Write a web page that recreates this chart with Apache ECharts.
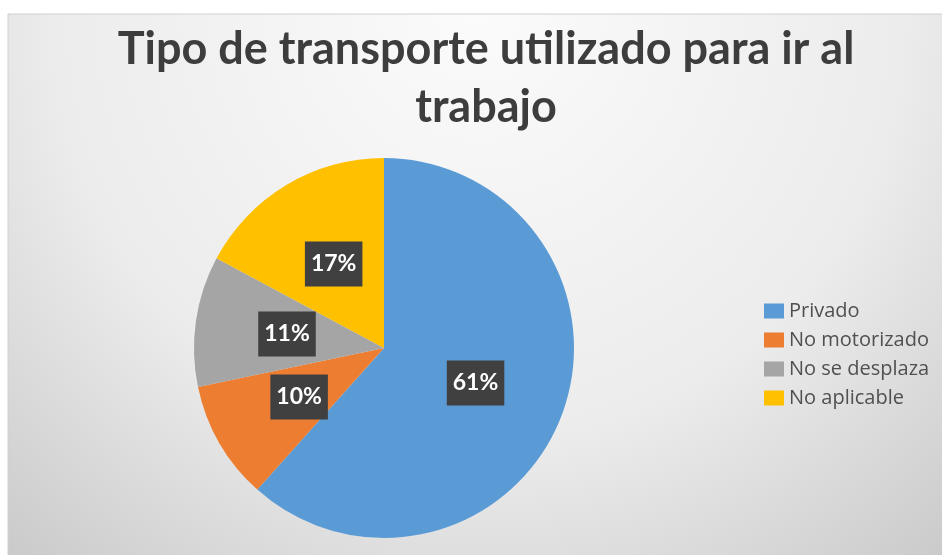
<!DOCTYPE html>
<html>
<head>
    <meta charset="utf-8">
    <title>Tipo de transporte utilizado para ir al trabajo</title>
    <script src="https://cdn.jsdelivr.net/npm/echarts@6/dist/echarts.min.js"></script>
    <style>
        html, body { margin: 0; padding: 0; background: #fff; }
    </style>
</head>
<body>
<div id="main" style="width: 942px;height:555px;"></div>

<script type="text/javascript">
    // datos del grafico
    var categorias = ['Privado', 'No motorizado', 'No se desplaza', 'No aplicable'];
    var porcentajes = [61, 10, 11, 17];
    var colores = ['#5b9bd5', '#ed7d31', '#a5a5a5', '#ffc000'];

    var datos = [];
    for (var i = 0; i < categorias.length; i++) {
        datos.push({ name: categorias[i], value: porcentajes[i], itemStyle: { color: colores[i] } });
    }

    var myChart = echarts.init(document.getElementById('main'));

    var option = {
        animation: false,
        graphic: [{
            type: 'rect',
            z: -10,
            shape: { x: 8, y: 14, width: 940, height: 545 },
            style: {
                fill: {
                    type: 'radial', x: 0.5, y: 0, r: 1.3,
                    colorStops: [
                        { offset: 0, color: '#fbfbfb' },
                        { offset: 0.6, color: '#ececec' },
                        { offset: 1, color: '#cbcbcb' }
                    ]
                },
                stroke: '#d0d0d0',
                lineWidth: 1
            }
        }],
        title: {
            text: 'Tipo de transporte utilizado para ir al\ntrabajo',
            left: 481,
            textAlign: 'center',
            top: 15,
            textStyle: {
                fontFamily: 'Lato',
                fontWeight: 'bold',
                fontSize: 45,
                lineHeight: 58,
                color: '#3d3d3d'
            }
        },
        legend: {
            orient: 'vertical',
            left: 759,
            top: 296,
            itemWidth: 20,
            itemHeight: 15,
            itemGap: 9,
            icon: 'rect',
            data: categorias,
            textStyle: {
                fontFamily: 'Open Sans',
                fontSize: 20,
                lineHeight: 20,
                color: '#505050'
            }
        },
        series: [{
            type: 'pie',
            center: [384, 348],
            radius: 190,
            startAngle: 90,
            clockwise: true,
            data: datos,
            itemStyle: { borderWidth: 0 },
            label: {
                position: 'inside',
                formatter: '{c}%',
                backgroundColor: '#404040',
                color: '#ffffff',
                fontFamily: 'Lato',
                fontWeight: 'bold',
                fontSize: 23,
                lineHeight: 23,
                padding: [11, 6]
            },
            labelLine: { show: false },
            emphasis: { disabled: true }
        }]
    };

    myChart.setOption(option);
</script>
</body>
</html>
